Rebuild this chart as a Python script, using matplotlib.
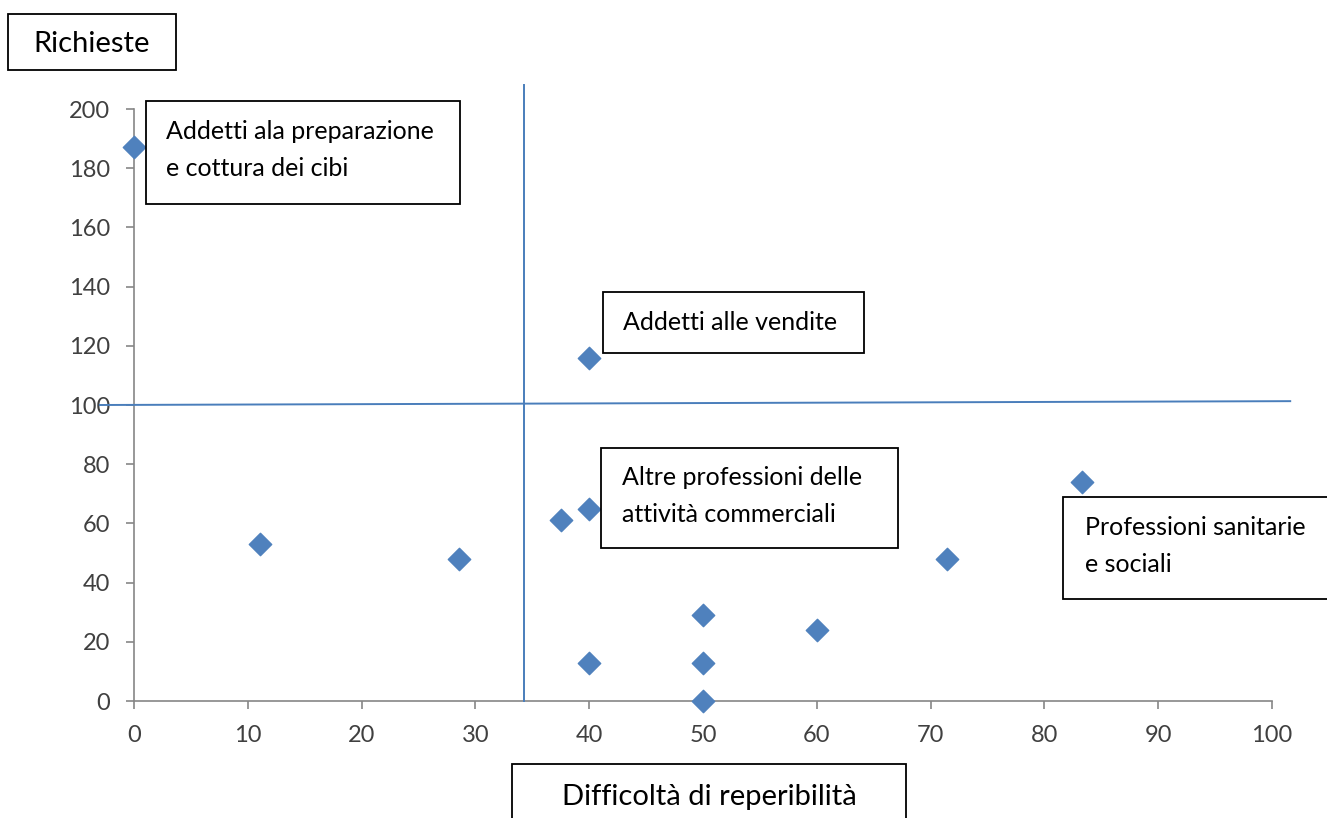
import matplotlib.pyplot as plt
from matplotlib.patches import Rectangle

# dati
difficolta = [0, 11.1, 28.6, 37.5, 40, 40, 40, 50, 50, 50, 60, 71.4, 83.3]
richieste = [187, 53, 48, 61, 65, 116, 13, 29, 13, 0, 24, 48, 74]

media_x = 34.3
media_y = 100

x_ticks = list(range(0, 101, 10))
y_ticks = list(range(0, 201, 20))

BLU = '#4F81BD'
LINEA = '#4A7EBB'
GRIGIO = '#868686'
TESTO = '#404040'

W, H = 1327, 818
plt.rcParams['font.family'] = ['Lato', 'DejaVu Sans']

fig = plt.figure(figsize=(W / 100, H / 100), dpi=100)
ax = fig.add_axes([134 / W, 117 / H, (1272 - 134) / W, (701 - 109) / H])

ax.scatter(difficolta, richieste, marker='D', s=130, color=BLU, zorder=5, clip_on=False)

# linee dei quadranti
ax.plot([media_x, media_x], [0, 208], color=LINEA, lw=1.4, clip_on=False, zorder=3)
ax.plot([-3, 101.6], [media_y, 101.3], color=LINEA, lw=1.4, clip_on=False, zorder=3)

ax.set_xlim(0, 100)
ax.set_ylim(0, 200)
ax.set_xticks(x_ticks)
ax.set_yticks(y_ticks)
for s in ['top', 'right']:
    ax.spines[s].set_visible(False)
for s in ['left', 'bottom']:
    ax.spines[s].set_color(GRIGIO)
    ax.spines[s].set_linewidth(1.2)
ax.tick_params(direction='out', length=6, width=1.2, color=GRIGIO,
               labelcolor=TESTO, labelsize=17)
ax.tick_params(axis='x', pad=11)
ax.tick_params(axis='y', pad=11)


def box(x0, y0, x1, y1, text, tx, ty, size=18, ha='left', ls=1.78):
    # coordinate in pixel dell'immagine (origine in alto a sinistra)
    fig.patches.append(Rectangle((x0 / W, 1 - y1 / H), (x1 - x0) / W, (y1 - y0) / H,
                                 transform=fig.transFigure, facecolor='white',
                                 edgecolor='black', lw=1.3, zorder=10))
    fig.text(tx / W, 1 - ty / H, text, ha=ha, va='center', fontsize=size,
             color='black', linespacing=ls, zorder=11)


box(8, 14, 176, 70, 'Richieste', 92, 44, size=21, ha='center')
box(146, 101, 460, 204, 'Addetti ala preparazione\ne cottura dei cibi', 166, 150)
box(603, 292, 864, 353, 'Addetti alle vendite', 623, 322)
box(601, 448, 898, 548, 'Altre professioni delle\nattività commerciali', 622, 496)
box(1063, 497, 1340, 599, 'Professioni sanitarie\ne sociali', 1085, 546)
box(512, 764, 906, 840, 'Difficoltà di reperibilità', 709, 797, size=21, ha='center')

fig.savefig('out.png', dpi=100)
